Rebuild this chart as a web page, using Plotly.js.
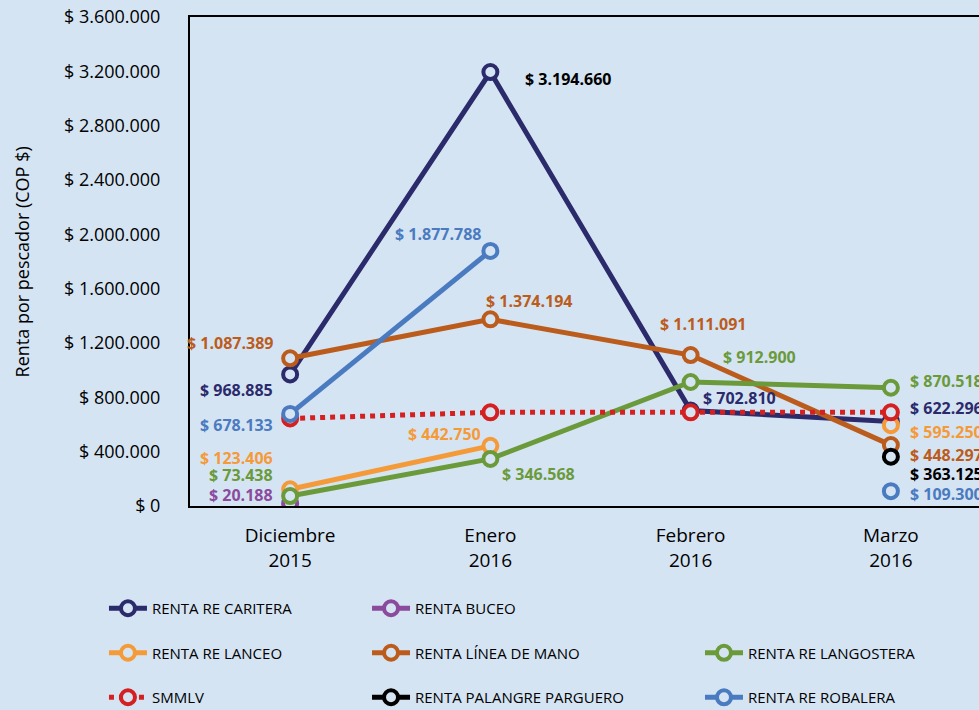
<!DOCTYPE html>
<html><head><meta charset="utf-8">
<script src="https://cdn.plot.ly/plotly-3.0.1.min.js"></script>
<style>body{margin:0;background:#d5e4f3}</style>
</head><body><div id="chart" style="width:979px;height:710px"></div>
<script>
const months = ["Diciembre<br>2015", "Enero<br>2016", "Febrero<br>2016", "Marzo<br>2016"];
const caritera   = [968885, 3194660, 702810, 622296];
const buceo      = [20188, null, null, null];
const lanceo     = [123406, 442750, null, 595250];
const lineaMano  = [1087389, 1374194, 1111091, 448297];
const langostera = [73438, 346568, 912900, 870518];
const smmlv      = [644350, 689455, 689455, 689455];
const palangre   = [null, null, null, 363125];
const robalera   = [678133, 1877788, null, 109300];
const yTicks = [0, 400000, 800000, 1200000, 1600000, 2000000, 2400000, 2800000, 3200000, 3600000];
const yTitle = 'Renta por pescador (COP $)';

const BG = '#d5e4f3';
const FONT = 'Open Sans, sans-serif';

function money(v){ return '$ ' + v.toString().replace(/\B(?=(\d{3})+(?!\d))/g, '.'); }

const series = [
  {name:'RENTA RE CARITERA', y:caritera, color:'#2b2a6b', legend:'legend'},
  {name:'RENTA BUCEO', y:buceo, color:'#8b4a9c', legend:'legend2'},
  {name:'RENTA RE LANCEO', y:lanceo, color:'#f59a38', legend:'legend'},
  {name:'RENTA LÍNEA DE MANO', y:lineaMano, color:'#bb5c1c', legend:'legend2'},
  {name:'RENTA RE LANGOSTERA', y:langostera, color:'#6a9a3a', legend:'legend3'},
  {name:'SMMLV', y:smmlv, color:'#d42020', legend:'legend', dash:'dot'},
  {name:'RENTA PALANGRE PARGUERO', y:palangre, color:'#000000', legend:'legend2'},
  {name:'RENTA RE ROBALERA', y:robalera, color:'#4a7bc0', legend:'legend3'}
];

const traces = series.map((s, i) => ({
  type:'scatter', mode:'lines+markers', x:months, y:s.y, name:s.name,
  legend:s.legend, legendgroup:'g' + i, connectgaps:false,
  line:{color:s.color, width:5, dash:s.dash||'solid'},
  marker:{symbol:'circle', size:14, color:BG, line:{color:s.color, width:4}},
  hoverinfo:'skip'
}));

// label placement: [series index, month index, xanchor, xshift, yshift, color override]
const labelSpec = [
  [3,0,'right',-16,15,null],[0,0,'right',-16,-16,null],[7,0,'right',-16,-11,null],
  [2,0,'right',-16,31,null],[4,0,'right',-16,21,null],[1,0,'right',-16,8,null],
  [0,1,'left',34,-7,'#000000'],[7,1,'right',-8,17,null],[3,1,'center',39,18,null],
  [2,1,'right',-8,12,null],[4,1,'left',11,-15,null],
  [3,2,'center',12,31,null],[4,2,'left',31,25,null],[0,2,'left',11,13,null],
  [4,3,'left',18,7,null],[0,3,'left',18,13,null],[2,3,'left',18,-7,null],
  [3,3,'left',18,-10,null],[6,3,'left',18,-17,null],[7,3,'left',18,-3,null]
];
const annotations = labelSpec.map(([si, mi, xa, xs, ys, col]) => ({
  x: months[mi], y: series[si].y[mi], xref:'x', yref:'y',
  text: '<b>' + money(series[si].y[mi]) + '</b>', showarrow:false,
  xanchor:xa, yanchor:'middle', xshift:xs, yshift:ys, borderpad:0,
  font:{family:FONT, size:16, color: col || series[si].color}
}));
annotations.push({
  text: yTitle, xref:'paper', yref:'paper', x:-0.213, y:0.5, textangle:-90,
  showarrow:false, xanchor:'center', yanchor:'middle',
  font:{family:FONT, size:18, color:'#000'}
});

const legendBase = {orientation:'v', bgcolor:'rgba(0,0,0,0)', tracegroupgap:22, itemwidth:38,
  xref:'container', yref:'container',
  font:{family:FONT, size:15, color:'#000'}, xanchor:'left', yanchor:'top', itemclick:false, traceorder:'grouped'};

const layout = {
  width:979, height:710, paper_bgcolor:BG, plot_bgcolor:BG,
  margin:{l:190, r:0, t:17, b:204, autoexpand:false},
  showlegend:true,
  xaxis:{type:'category', range:[-0.5, 3.44], showgrid:false, zeroline:false,
    showline:true, mirror:true, linecolor:'#000', linewidth:2, automargin:false,
    ticks:'outside', ticklen:11, tickcolor:'rgba(0,0,0,0)',
    tickfont:{family:FONT, size:19, color:'#000'}},
  yaxis:{range:[0, 3600000], tickvals:yTicks, ticktext:yTicks.map(money),
    showgrid:false, zeroline:false, showline:true, linecolor:'#000', linewidth:2, automargin:false,
    ticks:'outside', ticklen:24, tickcolor:'rgba(0,0,0,0)',
    tickfont:{family:FONT, size:18, color:'#000'}},
  legend:Object.assign({}, legendBase, {x:0.1062, y:0.1662}),
  legend2:Object.assign({}, legendBase, {x:0.3749, y:0.1662}),
  legend3:Object.assign({}, legendBase, {x:0.715, y:0.1035}),
  annotations:annotations
};

Plotly.newPlot('chart', traces, layout, {displayModeBar:false, staticPlot:true});
</script></body></html>
